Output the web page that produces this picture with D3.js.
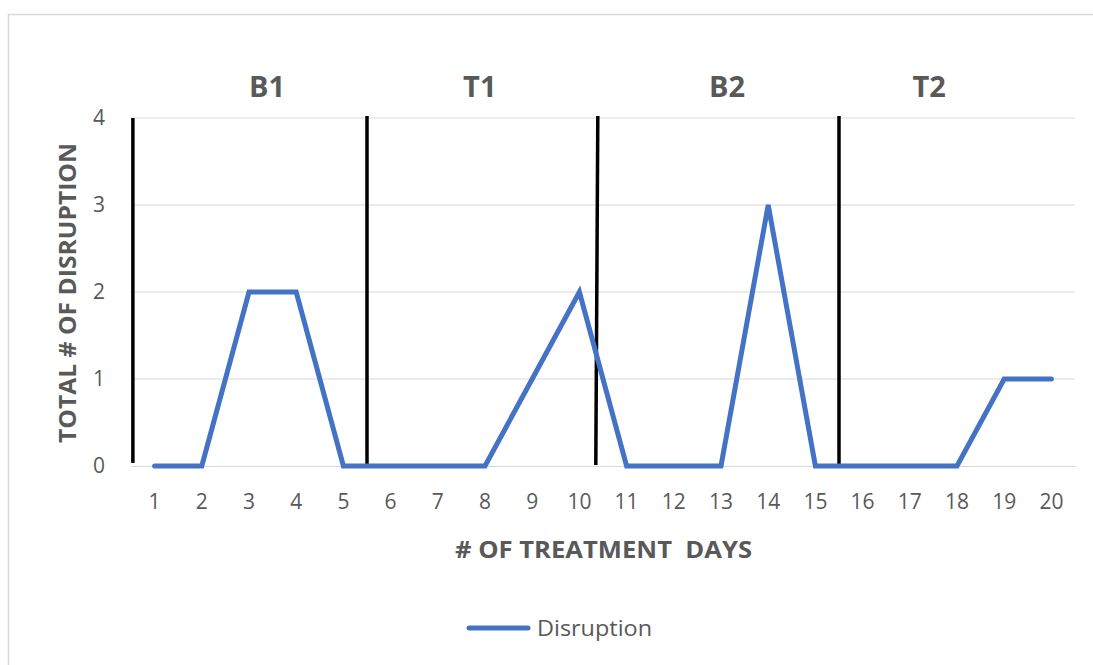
<!DOCTYPE html>
<html><head><meta charset="utf-8">
<script src="https://cdn.jsdelivr.net/npm/d3@7"></script>
<style>body{margin:0;background:#fff;}svg{display:block;font-family:"Open Sans",sans-serif;}</style>
</head><body>
<svg id="c" width="1093" height="665"></svg>
<script>
const days = [1,2,3,4,5,6,7,8,9,10,11,12,13,14,15,16,17,18,19,20];
const disruption = [0,0,2,2,0,0,0,0,1,2,0,0,0,3,0,0,0,0,1,1];
const yTicks = [0,1,2,3,4];
const phases = ["B1","T1","B2","T2"];
const phaseLabelPos = [3.38, 7.89, 13.13, 17.41];
const phaseLinePos = [0.54, 5.5, 10.39, 15.5];

const svg = d3.select("#c");
svg.append("rect").attr("x",8.5).attr("y",14.5).attr("width",1100).attr("height",700)
  .attr("fill","none").attr("stroke","#d9d9d9").attr("stroke-width",1.5);

const L=131,R=1075,T=118,B=466;
const x = d3.scaleBand().domain(days).range([L,R]);
const xl = d3.scaleLinear().domain([0.5,20.5]).range([L,R]);
const y = d3.scaleLinear().domain([0,4]).range([B,T]);

// gridlines
svg.append("g").selectAll("line").data(yTicks.filter(d=>d>0)).join("line")
  .attr("x1",L).attr("x2",R).attr("y1",d=>y(d)).attr("y2",d=>y(d))
  .attr("stroke","#d9d9d9").attr("stroke-width",1);

// x axis
const xa = svg.append("g").attr("transform",`translate(0,${B})`)
  .call(d3.axisBottom(x).tickSize(0).tickPadding(30));
xa.select(".domain").attr("stroke","#d9d9d9");
xa.selectAll("text").attr("fill","#595959").style("font-size","21px").style("font-family","'Open Sans',sans-serif").attr("dy","0.6em");

// y axis
const ya = svg.append("g").attr("transform",`translate(${L},0)`)
  .call(d3.axisLeft(y).tickValues(yTicks).tickFormat(d3.format("d")).tickSize(0).tickPadding(26));
ya.select(".domain").remove();
ya.selectAll("text").attr("fill","#595959").style("font-size","21px").style("font-family","'Open Sans',sans-serif").attr("dy","0.3em");

// phase lines
svg.append("g").selectAll("line").data(phaseLinePos).join("line")
  .attr("x1",d=>xl(d)).attr("x2",(d,i)=>xl(d)-(i===2?2:0))
  .attr("y1",(d,i)=>i===0?118:116).attr("y2",(d,i)=>i===0?463:465)
  .attr("stroke","#000").attr("stroke-width",3.5);

// phase labels
svg.append("g").selectAll("text").data(phases).join("text")
  .attr("x",(d,i)=>xl(phaseLabelPos[i]))
  .attr("y",97)
  .attr("text-anchor","middle").attr("fill","#595959")
  .style("font-size","29px").style("font-weight","bold").text(d=>d);

// line
const line = d3.line().x((d,i)=>x(days[i])+x.bandwidth()/2).y(d=>y(d));
svg.append("path").datum(disruption).attr("d",line)
  .attr("fill","none").attr("stroke","#4472C4").attr("stroke-width",5).attr("stroke-linejoin","miter").attr("stroke-linecap","round");

// axis titles
svg.append("text").attr("x",603.5).attr("y",558).attr("text-anchor","middle")
  .attr("fill","#595959").style("font-size","23px").style("font-weight","bold")
  .attr("textLength",297).attr("lengthAdjust","spacingAndGlyphs")
  .attr("xml:space","preserve").text("# OF TREATMENT  DAYS");
svg.append("text").attr("transform","translate(76,293) rotate(-90)").attr("text-anchor","middle")
  .attr("fill","#595959").style("font-size","23px").style("font-weight","bold")
  .attr("textLength",300).attr("lengthAdjust","spacingAndGlyphs")
  .text("TOTAL # OF DISRUPTION");

// legend
svg.append("line").attr("x1",469).attr("x2",528).attr("y1",628).attr("y2",628)
  .attr("stroke","#4472C4").attr("stroke-width",5).attr("stroke-linecap","round");
svg.append("text").attr("x",537).attr("y",636).attr("fill","#595959").style("font-size","22px")
  .attr("textLength",115).attr("lengthAdjust","spacingAndGlyphs").text("Disruption");
</script>
</body></html>
